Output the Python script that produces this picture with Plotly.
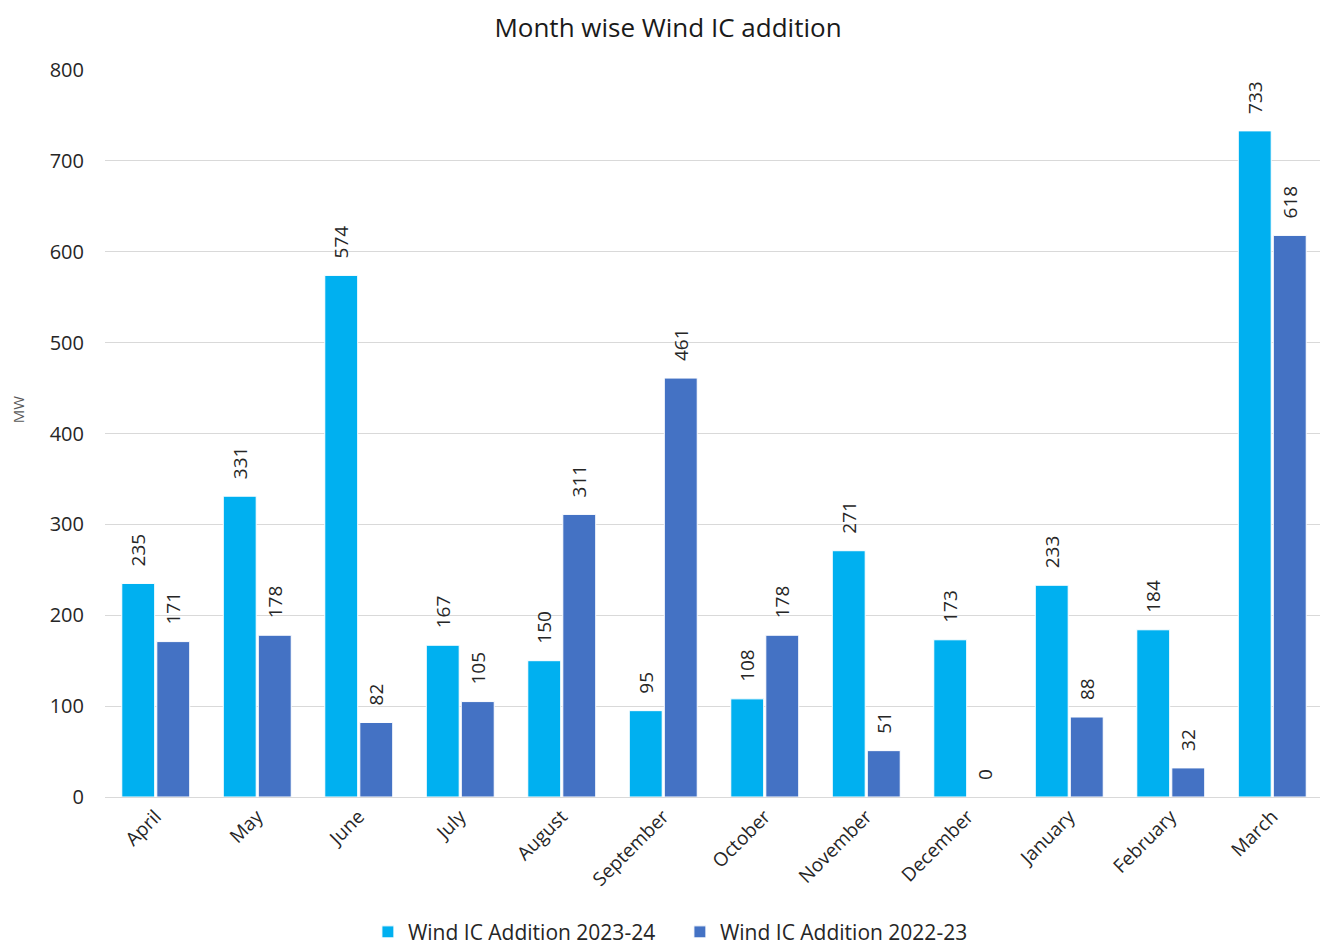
import plotly.graph_objects as go

months = ["April", "May", "June", "July", "August", "September", "October",
          "November", "December", "January", "February", "March"]
wind_2023_24 = [235, 331, 574, 167, 150, 95, 108, 271, 173, 233, 184, 733]
wind_2022_23 = [171, 178, 82, 105, 311, 461, 178, 51, 0, 88, 32, 618]
y_ticks = [0, 100, 200, 300, 400, 500, 600, 700, 800]

font_family = "Open Sans, Noto Sans, sans-serif"
pad = "\u2800"

fig = go.Figure()
fig.add_trace(go.Bar(
    name="Wind IC Addition 2023-24", x=months, y=wind_2023_24,
    marker=dict(color="#00B0F0", line=dict(color="white", width=1)),
    text=[pad + str(v) for v in wind_2023_24], textposition="outside", textangle=-90,
    constraintext="none",
    textfont=dict(size=19, color="#262626", family=font_family), cliponaxis=False,
))
fig.add_trace(go.Bar(
    name="Wind IC Addition 2022-23", x=months, y=wind_2022_23,
    marker=dict(color="#4472C4", line=dict(color="white", width=1)),
    text=[pad + str(v) for v in wind_2022_23], textposition="outside", textangle=-90,
    constraintext="none",
    textfont=dict(size=19, color="#262626", family=font_family), cliponaxis=False,
))

fig.update_layout(
    width=1320, height=943,
    paper_bgcolor="white", plot_bgcolor="white",
    margin=dict(l=97, r=5, t=62, b=154, autoexpand=False),
    title=dict(text="Month wise Wind IC addition", x=0.5, xanchor="center",
               y=0.979, yanchor="middle",
               font=dict(size=26, color="#1a1a1a", family=font_family)),
    barmode="group", bargap=0.31, bargroupgap=0.06,
    font=dict(family=font_family, color="#262626"),
    legend=dict(orientation="h", x=0.472, xanchor="center", y=-0.186, yanchor="middle",
                font=dict(size=21, color="#262626"), itemwidth=30,
                entrywidth=267, entrywidthmode="pixels",
                traceorder="normal"),
    uniformtext=dict(mode=False),
    annotations=[dict(text="MW", xref="paper", yref="paper", x=-0.0714, y=0.532,
                      xanchor="center", yanchor="middle", showarrow=False, textangle=-90,
                      font=dict(size=15, color="#595959", family=font_family))],
)
fig.update_xaxes(tickangle=-45, tickfont=dict(size=19, color="#262626"),
                 showline=True, linecolor="#D9D9D9", linewidth=1, ticks="",
                 automargin=False)
fig.update_yaxes(range=[0, 800], tickvals=y_ticks, showgrid=True, gridcolor="#D9D9D9",
                 gridwidth=1, zeroline=False, tickfont=dict(size=20, color="#262626"),
                 ticklabelstandoff=20, automargin=False)

fig.write_html("out.html")
